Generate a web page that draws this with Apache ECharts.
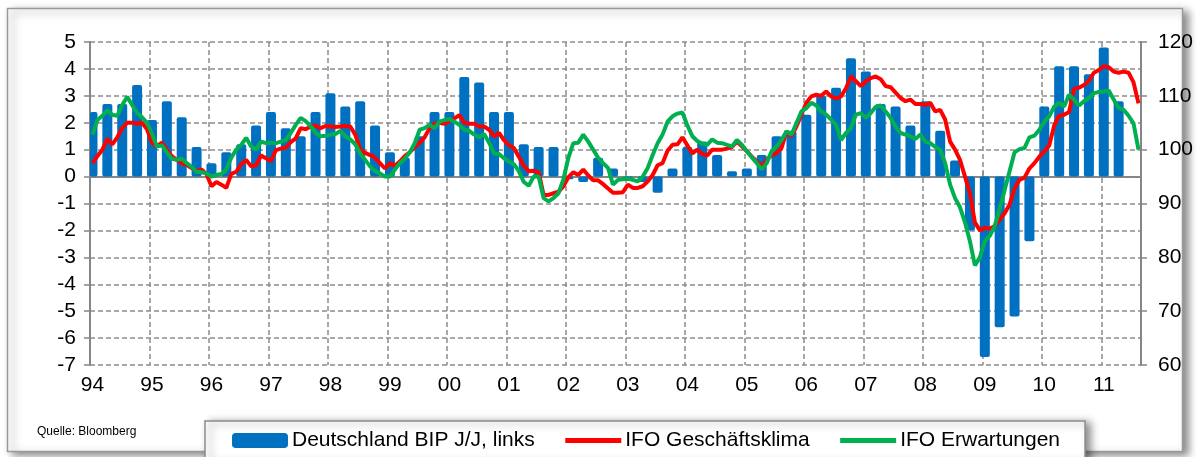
<!DOCTYPE html>
<html>
<head>
<meta charset="utf-8">
<script src="https://cdn.jsdelivr.net/npm/echarts@6/dist/echarts.min.js"></script>
<style>
  html, body { margin: 0; padding: 0; background: #fff; }
  #chart { width: 1196px; height: 457px; }
</style>
</head>
<body>
<div id="chart"></div>
<script>
// Year tick labels (x axis)
const years = ['94','95','96','97','98','99','00','01','02','03','04','05','06','07','08','09','10','11'];
// Monthly categories: Jan 1994 .. Aug 2011
const monthCount = 212;

// Deutschland BIP J/J (quarterly, %), Q1 1994 .. Q2 2011
const gdpQuarterly = [
  2.4, 2.7, 2.7, 3.4,
  2.1, 2.8, 2.2, 1.1,
  0.5, 0.9, 1.2, 1.9,
  2.4, 1.8, 1.5, 2.4,
  3.1, 2.6, 2.8, 1.9,
  0.9, 0.7, 1.5, 2.4,
  2.4, 3.7, 3.5, 2.4,
  2.4, 1.2, 1.1, 1.1,
  -0.1, -0.2, 0.7, 0.3,
  -0.1, -0.2, -0.6, 0.3,
  1.1, 1.3, 0.8, 0.2,
  0.3, 0.8, 1.5, 1.7,
  2.3, 3.0, 3.3, 4.4,
  3.9, 2.7, 2.6, 1.9,
  2.8, 1.7, 0.6, -2.0,
  -6.7, -5.6, -5.2, -2.4,
  2.6, 4.1, 4.1, 3.8,
  4.8, 2.8
];

// IFO Geschäftsklima (monthly), Jan 1994 .. Aug 2011
const ifoKlima = [
  97.5, 98.8, 100.0, 102.0, 101.0, 102.3, 104.0, 105.0, 105.0, 104.8, 105.0, 103.8,
  101.3, 100.6, 101.3, 100.0, 98.8, 98.1, 97.5, 97.2, 96.6, 96.1, 96.3, 95.5,
  93.2, 94.0, 93.5, 92.9, 95.5, 95.9, 97.3, 98.1, 96.9, 97.1, 98.9, 98.4,
  97.9, 99.9, 100.2, 100.4, 101.4, 102.1, 104.0, 103.8, 104.3, 104.5, 104.0, 104.4,
  104.3, 104.2, 104.3, 104.4, 104.3, 102.8, 100.0, 99.4, 99.0, 98.5, 97.5, 96.5,
  97.5, 97.0, 97.8, 98.8, 99.5, 100.5, 101.3, 102.3, 104.0, 104.8, 105.0, 104.8,
  105.3, 105.8, 106.4, 105.0, 104.8, 104.8, 104.3, 104.3, 103.7, 102.5, 103.1, 101.8,
  100.8, 100.3, 98.7, 97.0, 96.0, 96.1, 95.8, 91.6, 91.6, 91.9, 92.2, 93.2,
  94.9, 95.8, 95.3, 96.3, 95.2, 94.3, 94.3, 93.6, 92.8, 92.0, 92.0, 92.1,
  93.5, 92.9, 92.9, 93.2, 94.1, 95.3, 97.1, 97.5, 99.8, 100.9, 101.0, 102.3,
  100.8, 99.3, 100.0, 99.2, 98.9, 100.0, 100.0, 100.0, 100.2, 100.5, 101.5, 100.6,
  99.7, 98.7, 97.8, 96.9, 98.1, 99.0, 99.4, 100.3, 103.4, 102.5, 104.3, 106.5,
  108.7, 109.9, 110.2, 110.0, 110.8, 109.9, 109.5, 109.9, 111.4, 113.6, 112.7, 111.8,
  112.7, 113.3, 113.6, 113.1, 111.8, 111.6, 110.6, 109.6, 109.0, 109.3, 108.5, 108.5,
  108.3, 108.7, 107.1, 107.4, 105.6, 101.5, 100.0, 98.1, 95.0, 91.9, 86.5, 85.0,
  85.5, 85.3, 85.8, 87.0, 88.2, 89.8, 92.8, 94.4, 94.8, 96.5, 97.5, 98.7,
  99.7, 100.8, 104.5, 106.3, 106.5, 107.0, 111.3, 111.5, 112.0, 112.8, 114.3, 114.8,
  115.5, 115.3, 114.5, 114.3, 114.5, 114.3, 112.5, 108.6
];

// IFO Erwartungen (monthly), Jan 1994 .. Aug 2011
const ifoErwartungen = [
  102.8, 105.5, 106.3, 107.3, 106.5, 106.3, 108.3, 109.8, 108.3, 106.8, 106.0, 105.0,
  103.0, 100.6, 100.8, 99.5, 98.3, 98.1, 98.3, 97.5, 96.8, 95.9, 95.8, 95.6,
  95.0, 95.3, 95.5, 96.3, 98.5, 100.0, 100.9, 102.2, 100.6, 100.0, 101.5, 101.2,
  101.3, 101.2, 101.5, 101.8, 103.1, 104.6, 105.9, 105.3, 104.4, 103.1, 102.5, 102.6,
  102.8, 102.9, 103.5, 102.5, 101.9, 101.0, 99.3, 98.1, 96.9, 96.0, 95.6, 95.0,
  95.0, 96.3, 97.5, 98.3, 99.5, 101.2, 103.7, 104.0, 104.6, 104.0, 105.2, 105.5,
  105.7, 105.2, 104.6, 103.7, 103.5, 102.8, 102.3, 102.9, 101.3, 99.3, 99.2, 98.4,
  97.8, 97.3, 96.0, 94.0, 93.3, 95.0, 95.0, 91.0, 90.4, 91.0, 91.9, 94.5,
  98.5, 101.2, 101.3, 102.8, 101.5, 100.0, 98.5, 97.5, 96.6, 93.5, 94.4, 94.5,
  94.6, 94.4, 94.1, 95.0, 96.6, 99.0, 101.2, 102.8, 105.2, 106.2, 106.7, 106.9,
  104.5, 102.5, 101.6, 101.1, 100.9, 101.9, 101.3, 101.2, 100.9, 100.6, 101.8, 100.9,
  99.7, 98.6, 97.5, 96.3, 97.5, 99.7, 100.6, 101.8, 103.4, 102.8, 104.9, 107.1,
  107.7, 108.7, 108.2, 107.1, 106.5, 105.6, 104.6, 101.8, 103.1, 104.0, 106.5, 106.8,
  105.9, 106.8, 108.0, 108.2, 107.1, 105.9, 104.3, 103.1, 102.8, 102.5, 102.0, 102.8,
  101.5, 101.2, 100.5, 100.0, 97.5, 93.5, 91.0, 89.3, 86.5, 83.0, 78.5, 80.0,
  83.0, 84.0, 85.8, 89.0, 92.5, 96.0, 99.5, 100.1, 100.3, 102.3, 102.6, 103.7,
  105.2, 106.2, 108.0, 108.7, 108.0, 110.2, 109.3, 108.2, 109.0, 109.6, 110.5, 110.7,
  110.8, 111.0, 109.3, 107.7, 107.4, 106.3, 104.9, 100.0
];

const names = ['Deutschland BIP J/J, links', 'IFO Geschäftsklima', 'IFO Erwartungen'];

// Build the monthly category axis from the year labels
const categories = [];
for (const y of years) {
  for (let m = 1; m <= 12 && categories.length < monthCount; m++) categories.push(y + '/' + m);
}
// Quarterly bars placed at the first month of each quarter
const barData = categories.map((c, i) =>
  (i % 3 === 0 && (i / 3) < gdpQuarterly.length) ? gdpQuarterly[i / 3] : '-');

const FONT = "Arial, 'Liberation Sans', sans-serif";
const yearTick = (index) => index % 12 === 0;
const dashed = { color: '#8c8c8c', width: 1.5, type: [5, 3] };
const hiddenSymbol = { opacity: 0, color: 'rgba(0,0,0,0)', borderWidth: 0 };

const chart = echarts.init(document.getElementById('chart'), null, { renderer: 'canvas' });
chart.setOption({
  animation: false,
  backgroundColor: '#ffffff',
  graphic: [
    {
      type: 'rect', z: -100, silent: true,
      shape: { x: 7.5, y: 8.5, width: 1175, height: 443 },
      style: { fill: '#ffffff', stroke: '#9a9a9a', lineWidth: 1.5,
               shadowBlur: 8, shadowColor: 'rgba(0,0,0,0.45)', shadowOffsetX: 5, shadowOffsetY: 3 }
    },
    {
      type: 'text', left: 37, top: 426, silent: true,
      style: { text: 'Quelle: Bloomberg', fill: '#000', font: '12px ' + FONT }
    }
  ],
  grid: { left: 90, right: 53, top: 42, height: 323, containLabel: false },
  legend: {
    data: [
      { name: names[0] },
      { name: names[1], itemStyle: hiddenSymbol, lineStyle: { width: 5, color: '#FF0000' } },
      { name: names[2], itemStyle: hiddenSymbol, lineStyle: { width: 5, color: '#00B050' } }
    ],
    left: 205, top: 421,
    padding: [9, 25, 10, 27],
    itemGap: 28,
    itemWidth: 56, itemHeight: 15,
    backgroundColor: '#ffffff',
    borderColor: '#8c8c8c', borderWidth: 1.5, borderRadius: 0,
    shadowBlur: 8, shadowColor: 'rgba(0,0,0,0.45)', shadowOffsetX: 5, shadowOffsetY: 2,
    textStyle: { fontSize: 21, color: '#000', fontFamily: FONT, padding: [0, 0, 0, -1] },
    selectedMode: false
  },
  xAxis: [
    {
      type: 'category', data: categories, boundaryGap: true, position: 'bottom',
      axisLine: { show: false, onZero: false },
      axisTick: { show: false },
      axisLabel: { interval: yearTick, formatter: (v) => v.split('/')[0],
                   fontSize: 21, color: '#000', fontFamily: FONT, margin: 10 },
      splitLine: { show: true, interval: yearTick, lineStyle: dashed }
    },
    {
      type: 'category', data: categories, boundaryGap: true,
      axisLine: { show: true, onZero: true, onZeroAxisIndex: 0, lineStyle: { color: '#868686', width: 2 } },
      axisTick: { show: true, interval: yearTick, length: 5, lineStyle: { color: '#868686', width: 1.5 } },
      axisLabel: { show: false },
      splitLine: { show: false }
    }
  ],
  yAxis: [
    {
      type: 'value', min: -7, max: 5, interval: 1, position: 'left',
      axisLine: { show: true, lineStyle: { color: '#868686', width: 2 } },
      axisTick: { show: true, length: 6, lineStyle: { color: '#868686', width: 1.5 } },
      axisLabel: { fontSize: 21, color: '#000', fontFamily: FONT, margin: 14 },
      splitLine: { show: true, lineStyle: dashed }
    },
    {
      type: 'value', min: 60, max: 120, interval: 10, position: 'right',
      axisLine: { show: true, lineStyle: { color: '#868686', width: 2 } },
      axisTick: { show: true, length: 6, lineStyle: { color: '#868686', width: 1.5 } },
      axisLabel: { fontSize: 21, color: '#000', fontFamily: FONT, margin: 17 },
      splitLine: { show: false }
    }
  ],
  series: [
    {
      name: names[0], type: 'bar', xAxisIndex: 0, yAxisIndex: 0,
      data: barData, barWidth: 10,
      itemStyle: { color: '#0070C0', borderRadius: 2 }
    },
    {
      name: names[1], type: 'line', xAxisIndex: 0, yAxisIndex: 1,
      data: ifoKlima, showSymbol: false, symbol: 'none',
      lineStyle: { color: '#FF0000', width: 4 }, itemStyle: { color: '#FF0000' }
    },
    {
      name: names[2], type: 'line', xAxisIndex: 0, yAxisIndex: 1,
      data: ifoErwartungen, showSymbol: false, symbol: 'none',
      lineStyle: { color: '#00B050', width: 4 }, itemStyle: { color: '#00B050' }
    }
  ]
});
</script>
</body>
</html>
